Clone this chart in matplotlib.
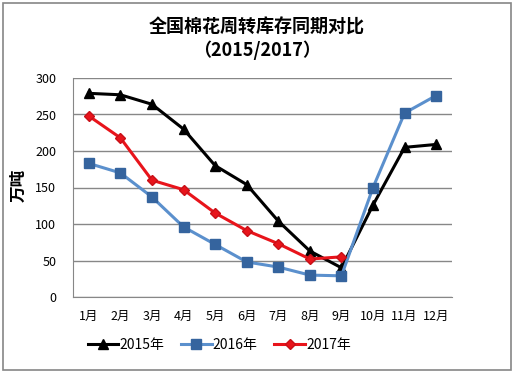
import matplotlib
matplotlib.use('Agg')
import matplotlib.pyplot as plt
from matplotlib.patches import Rectangle

plt.rcParams['font.family'] = ['Noto Sans CJK SC', 'DejaVu Sans']

months = ['1月', '2月', '3月', '4月', '5月', '6月', '7月', '8月', '9月', '10月', '11月', '12月']
y2015 = [279, 277, 264, 230, 180, 154, 104, 63, 40, 126, 205, 209]
y2016 = [183, 170, 137, 96, 72, 48, 41, 30, 29, 150, 252, 276]
y2017 = [248, 218, 160, 147, 115, 91, 73, 52, 55]

fig = plt.figure(figsize=(5.14, 3.75), dpi=100)
fig.patches.append(Rectangle((0.006, 0.013), 0.988, 0.979, transform=fig.transFigure,
                             fill=False, edgecolor='#868686', linewidth=1.2))
ax = fig.add_axes([73/514, 1 - 297/375, (452 - 73)/514, (297 - 78)/375])

x = list(range(1, 13))
ax.plot(x, y2015, color='black', linewidth=2.2, marker='^', markersize=7, label='2015年')
ax.plot(x, y2016, color='#5B90CD', linewidth=2.2, marker='s', markersize=7,
        markerfacecolor='#35649E', markeredgecolor='#35649E', label='2016年')
ax.plot(x[:len(y2017)], y2017, color='#E8141B', linewidth=2.2, marker='D', markersize=5,
        markerfacecolor='#E8141B', markeredgecolor='#C81018', label='2017年')

ax.set_xlim(0.5, 12.5)
ax.set_ylim(0, 300)
ax.set_yticks(range(0, 301, 50))
ax.set_xticks(x)
ax.set_xticklabels(months)
ax.tick_params(length=0, labelsize=9, pad=9)
ax.tick_params(axis='y', pad=12)
ax.yaxis.grid(True, color='#878787', linewidth=1)
ax.set_axisbelow(True)
for s in ['top', 'right']:
    ax.spines[s].set_visible(False)
ax.spines['left'].set_color('#878787')
ax.spines['bottom'].set_color('#878787')

fig.text(19/514, 1 - 185/375, '万吨', rotation=90, ha='center', va='center',
         fontsize=12, fontweight='bold')
fig.text(0.5, 1 - 27/375, '全国棉花周转库存同期对比', ha='center', va='center',
         fontsize=13, fontweight='bold')
fig.text(0.5, 1 - 50/375, '（2015/2017）', ha='center', va='center',
         fontsize=13, fontweight='bold')

ax.legend(loc='center left', bbox_to_anchor=(75/514, 1 - 345/375), bbox_transform=fig.transFigure,
          ncol=3, frameon=False, fontsize=10, handlelength=2.2, handletextpad=0.1,
          columnspacing=1.2)

fig.savefig('out.png', dpi=100)
